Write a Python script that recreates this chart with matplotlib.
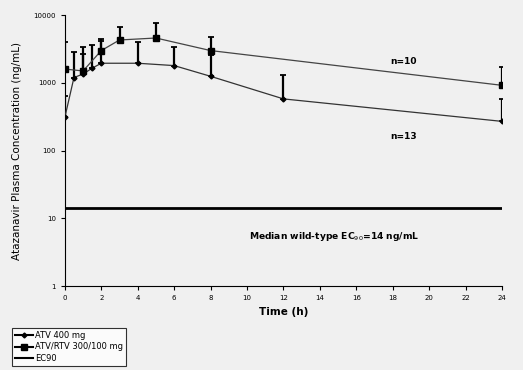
import matplotlib.pyplot as plt
from matplotlib.lines import Line2D

# ATV 400 mg
t_atv = [0, 0.5, 1, 1.5, 2, 4, 6, 8, 12, 24]
c_atv = [310, 1200, 1350, 1650, 1950, 1950, 1800, 1250, 580, 270]
err_top_atv = [650, 2900, 2700, 3600, 4100, 4000, 3400, 2600, 1300, 580]

# ATV/RTV 300/100 mg
t_rtv = [0, 1, 2, 3, 5, 8, 24]
c_rtv = [1600, 1500, 3000, 4300, 4600, 3000, 920]
err_top_rtv = [4000, 3400, 4500, 6800, 7600, 4700, 1700]

ec90 = 14

bg = '#f0f0f0'
fig = plt.figure(figsize=(5.23, 3.70), dpi=100, facecolor=bg)
ax = fig.add_axes([0.124, 0.227, 0.836, 0.732], facecolor=bg)

ax.errorbar(t_atv, c_atv, yerr=[[0] * len(c_atv), [e - c for e, c in zip(err_top_atv, c_atv)]],
            fmt='none', ecolor='black', elinewidth=1.6, capsize=2.5, capthick=1.3, zorder=3)
ax.errorbar(t_rtv, c_rtv, yerr=[[0] * len(c_rtv), [e - c for e, c in zip(err_top_rtv, c_rtv)]],
            fmt='none', ecolor='black', elinewidth=1.6, capsize=2.5, capthick=1.3, zorder=3)
ax.plot(t_atv, c_atv, color='#333333', lw=0.9, marker='D', ms=2.5, mfc='black', mec='black', zorder=4)
ax.plot(t_rtv, c_rtv, color='#444444', lw=0.9, marker='s', ms=4.5, mfc='black', mec='black', zorder=4)
ax.plot([0, 24], [ec90, ec90], color='black', lw=2, zorder=4)

ax.set_yscale('log')
ax.set_ylim(1, 10000)
ax.set_xlim(0, 24)
ax.set_xticks(range(0, 25, 2))
ax.set_yticks([1, 10, 100, 1000, 10000])
ax.set_yticklabels(['1', '10', '100', '1000', '10000'])
ax.minorticks_off()
ax.tick_params(labelsize=5, length=3, width=0.8, direction='out')
for s in ['top', 'right']:
    ax.spines[s].set_visible(False)

ax.set_xlabel('Time (h)', fontsize=7.5, fontweight='bold')
ax.set_ylabel('Atazanavir Plasma Concentration (ng/mL)', fontsize=7.5, labelpad=8)

ax.text(18.6, 2100, 'n=10', fontsize=6.5, fontweight='bold', ha='center', va='center')
ax.text(18.6, 160, 'n=13', fontsize=6.5, fontweight='bold', ha='center', va='center')
ax.text(14.8, 5.3, 'Median wild-type EC$_{90}$=14 ng/mL', fontsize=6.6, fontweight='bold',
        ha='center', va='center')

handles = [Line2D([], [], color='black', lw=1.5, marker='D', ms=2.5),
           Line2D([], [], color='black', lw=1.5, marker='s', ms=4.5),
           Line2D([], [], color='black', lw=1.5)]
leg = fig.legend(handles, ['ATV 400 mg', 'ATV/RTV 300/100 mg', 'EC90'],
                 loc='lower left', bbox_to_anchor=(0.023, 0.01), fontsize=6,
                 frameon=True, fancybox=False, edgecolor='black', facecolor='white',
                 handlelength=2.2, handletextpad=0.2, labelspacing=0.35, borderpad=0.35,
                 borderaxespad=0)
leg.get_frame().set_linewidth(0.8)

fig.savefig('out.png', dpi=100, facecolor=bg)
